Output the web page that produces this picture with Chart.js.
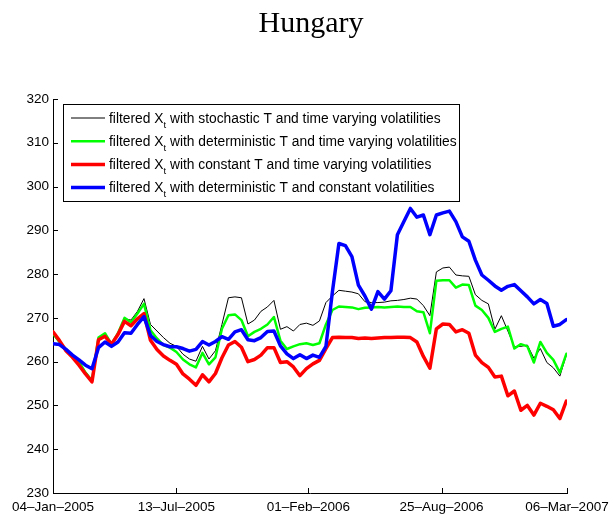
<!DOCTYPE html>
<html>
<head>
<meta charset="utf-8">
<script src="https://cdn.jsdelivr.net/npm/chart.js@4.4.0/dist/chart.umd.min.js"></script>
<style>
html, body { margin: 0; padding: 0; background: #fff; }
</style>
</head>
<body>
<canvas id="hungaryChart" width="611" height="515"></canvas>
<script>
// chart title
var titleText = 'Hungary';

// x positions: days since 04-Jan-2005 (one sample every 10 days)
var days = [0, 10, 20, 30, 40, 50, 60, 70, 80, 90,
  100, 110, 120, 130, 140, 150, 160, 170, 180, 190,
  200, 210, 220, 230, 240, 250, 260, 270, 280, 290,
  300, 310, 320, 330, 340, 350, 360, 370, 380, 390,
  400, 410, 420, 430, 440, 450, 460, 470, 480, 490,
  500, 510, 520, 530, 540, 550, 560, 570, 580, 590,
  600, 610, 620, 630, 640, 650, 660, 670, 680, 690,
  700, 710, 720, 730, 740, 750, 760, 770, 780, 790];

// date ticks on the x axis
var tickDays = [0, 190, 393, 598, 791];
var tickLabels = ['04\u2013Jan\u20132005', '13\u2013Jul\u20132005', '01\u2013Feb\u20132006', '25\u2013Aug\u20132006', '06\u2013Mar\u20132007'];

// y axis
var yMin = 230, yMax = 320, yStep = 10;

// filtered X_t, stochastic T and time varying volatilities (black)
var stochasticTV = [266.2, 264.4, 262.7, 261.3, 259.8, 257.7, 255.8, 265.3, 266.3, 264.0,
  266.3, 269.8, 269.5, 271.5, 274.4, 268.5, 267.0, 265.5, 264.2, 263.5,
  261.7, 260.6, 260.1, 263.5, 260.6, 262.5, 268.5, 274.6, 274.8, 274.6,
  268.6, 269.5, 271.5, 272.5, 274.0, 267.4, 268.0, 267.0, 268.5, 268.8,
  268.3, 269.3, 273.5, 275.0, 276.3, 276.1, 275.9, 275.5, 273.7, 273.5,
  273.5, 273.6, 273.9, 274.0, 274.2, 274.5, 274.3, 272.8, 270.5, 280.5,
  281.4, 281.6, 279.8, 279.6, 279.5, 275.3, 274.0, 273.2, 267.4, 270.5,
  267.0, 263.4, 263.5, 263.8, 260.8, 263.0, 259.8, 258.6, 256.7, 261.5];

// deterministic T and time varying volatilities (green)
var deterministicTV = [266.4, 264.5, 262.8, 261.4, 260.0, 257.5, 255.7, 265.5, 266.5, 264.0,
  266.5, 270.0, 269.0, 271.0, 273.2, 267.2, 265.3, 263.8, 263.2, 262.2,
  260.5, 259.4, 258.7, 262.0, 259.4, 261.0, 267.5, 270.6, 270.8, 269.5,
  265.8, 266.8, 267.5, 268.5, 270.2, 264.8, 262.9, 263.5, 264.0, 264.2,
  263.8, 264.2, 268.5, 271.8, 272.6, 272.5, 272.4, 272.0, 272.3, 272.4,
  272.5, 272.4, 272.5, 272.6, 272.5, 272.5, 271.5, 271.3, 266.5, 278.5,
  278.6, 278.6, 276.9, 277.6, 277.5, 272.8, 271.8, 270.0, 266.8, 267.5,
  268.0, 263.0, 264.0, 263.5, 259.8, 264.5, 262.0, 260.4, 257.5, 261.8];

// constant T and time varying volatilities (red)
var constantTV = [266.8, 264.8, 262.5, 261.0, 259.2, 257.2, 255.4, 265.0, 265.8, 264.0,
  266.2, 269.2, 268.2, 269.8, 271.0, 264.9, 262.8, 261.3, 260.3, 259.4,
  257.2, 256.0, 254.6, 257.0, 255.4, 257.3, 260.9, 263.8, 264.6, 263.3,
  260.0, 260.5, 261.5, 263.2, 263.2, 259.8, 260.0, 258.8, 256.8, 258.4,
  259.5, 260.3, 263.0, 265.5, 265.6, 265.5, 265.5, 265.3, 265.4, 265.3,
  265.4, 265.5, 265.5, 265.6, 265.6, 265.5, 264.5, 261.2, 258.5, 267.5,
  268.6, 268.5, 266.8, 267.3, 266.5, 261.5, 259.8, 258.7, 256.5, 256.7,
  252.2, 253.3, 248.9, 250.0, 247.8, 250.5, 249.8, 249.0, 247.0, 251.0];

// deterministic T and constant volatilities (blue)
var deterministicConst = [264.1, 263.9, 262.8, 261.5, 260.4, 259.2, 258.4, 263.2, 264.5, 263.5,
  264.5, 266.6, 266.5, 268.5, 270.3, 266.0, 264.6, 263.9, 263.4, 263.4,
  263.0, 262.4, 262.8, 264.6, 263.8, 264.6, 265.7, 265.1, 266.8, 267.3,
  265.0, 264.8, 265.5, 266.9, 267.0, 263.6, 261.8, 260.7, 261.6, 260.7,
  261.5, 261.0, 263.5, 276.0, 287.0, 286.5, 284.0, 277.5, 275.0, 272.0,
  276.0, 274.3, 276.2, 289.0, 292.0, 295.0, 293.0, 293.5, 289.0, 293.5,
  294.0, 294.4, 292.0, 288.5, 287.5, 283.2, 279.8, 278.6, 277.3, 276.3,
  277.2, 277.6, 276.2, 274.8, 273.2, 274.2, 273.3, 268.1, 268.5, 269.6];

// legend entries, in the order shown in the box
var legendEntries = [
  { pre: 'filtered X', sub: 't', post: ' with stochastic T and time varying volatilities', color: '#000000', width: 1 },
  { pre: 'filtered X', sub: 't', post: ' with deterministic T and time varying volatilities', color: '#00ff00', width: 2.5 },
  { pre: 'filtered X', sub: 't', post: ' with constant T and time varying volatilities', color: '#ff0000', width: 3.5 },
  { pre: 'filtered X', sub: 't', post: ' with deterministic T and constant volatilities', color: '#0000ff', width: 3.5 }
];

var sansFont = '"Liberation Sans", Arial, Helvetica, sans-serif';

function toPoints(vals) {
  return days.map(function(d, i) { return { x: d, y: vals[i] }; });
}

var yTicks = [];
for (var v = yMin; v <= yMax; v += yStep) yTicks.push(v);

// title, inward tick marks and the legend box (with subscript t)
var decorPlugin = {
  id: 'decor',
  afterDraw: function(chart) {
    var ctx = chart.ctx;
    var area = chart.chartArea;
    var xs = chart.scales.x, ys = chart.scales.y;
    ctx.save();

    ctx.fillStyle = '#000';
    ctx.font = '30px "Liberation Serif", "Times New Roman", serif';
    ctx.textAlign = 'center';
    ctx.textBaseline = 'alphabetic';
    ctx.fillText(titleText, (area.left + area.right) / 2 + 1, 32);

    ctx.strokeStyle = '#000';
    ctx.lineWidth = 1;
    ctx.beginPath();
    yTicks.forEach(function(t) {
      var y = Math.round(ys.getPixelForValue(t)) + 0.5;
      ctx.moveTo(area.left, y);
      ctx.lineTo(area.left + 5, y);
    });
    tickDays.forEach(function(d) {
      var x = Math.round(xs.getPixelForValue(d)) + 0.5;
      ctx.moveTo(x, area.bottom);
      ctx.lineTo(x, area.bottom - 5);
    });
    ctx.stroke();

    // legend
    var bx = 63.5, by = 104.5, bw = 396, bh = 97;
    ctx.fillStyle = '#fff';
    ctx.fillRect(bx, by, bw, bh);
    ctx.strokeStyle = '#000';
    ctx.lineWidth = 1;
    ctx.strokeRect(bx, by, bw, bh);

    ctx.textAlign = 'left';
    legendEntries.forEach(function(e, i) {
      var cy = 118 + i * 23.2;
      ctx.strokeStyle = e.color;
      ctx.lineWidth = e.width;
      ctx.beginPath();
      ctx.moveTo(71, cy);
      ctx.lineTo(105, cy);
      ctx.stroke();

      ctx.fillStyle = '#000';
      var tx = 109;
      ctx.font = '13.8px ' + sansFont;
      ctx.fillText(e.pre, tx, cy + 4.5);
      tx += ctx.measureText(e.pre).width;
      ctx.font = '9.5px ' + sansFont;
      ctx.fillText(e.sub, tx, cy + 9.5);
      tx += ctx.measureText(e.sub).width;
      ctx.font = '13.8px ' + sansFont;
      ctx.fillText(e.post, tx, cy + 4.5);
    });

    ctx.restore();
  }
};

var ctx = document.getElementById('hungaryChart').getContext('2d');
var chart = new Chart(ctx, {
  type: 'line',
  data: {
    datasets: [
      { data: toPoints(deterministicConst), borderColor: '#0000ff', borderWidth: 3.5 },
      { data: toPoints(constantTV), borderColor: '#ff0000', borderWidth: 3.5 },
      { data: toPoints(deterministicTV), borderColor: '#00ff00', borderWidth: 2.5 },
      { data: toPoints(stochasticTV), borderColor: '#000000', borderWidth: 1 }
    ]
  },
  options: {
    responsive: false,
    animation: false,
    events: [],
    layout: { padding: { top: 99, right: 44, left: 0, bottom: 0 } },
    elements: {
      point: { radius: 0 },
      line: { tension: 0, fill: false, borderJoinStyle: 'round', borderCapStyle: 'round' }
    },
    plugins: {
      legend: { display: false },
      title: { display: false },
      tooltip: { enabled: false }
    },
    scales: {
      x: {
        type: 'linear',
        min: 0,
        max: 791,
        grid: { display: false, drawTicks: false },
        border: { display: true, color: '#000', width: 1 },
        afterBuildTicks: function(scale) {
          scale.ticks = tickDays.map(function(d) { return { value: d }; });
        },
        afterFit: function(scale) {
          scale.height = 22;
          // labels may overhang the plot edges, as in the original
          scale.paddingLeft = 0;
          scale.paddingRight = 0;
        },
        ticks: {
          autoSkip: false,
          maxRotation: 0,
          padding: 6,
          color: '#000',
          font: { family: sansFont, size: 13.5 },
          callback: function(value) {
            var k = tickDays.indexOf(value);
            return k >= 0 ? tickLabels[k] : '';
          }
        }
      },
      y: {
        min: yMin,
        max: yMax,
        grid: { display: false, drawTicks: false },
        border: { display: true, color: '#000', width: 1 },
        afterFit: function(scale) {
          scale.width = 53;
          scale.paddingTop = 0;
          scale.paddingBottom = 0;
        },
        ticks: {
          stepSize: yStep,
          padding: 4,
          color: '#000',
          font: { family: sansFont, size: 13.5 }
        }
      }
    }
  },
  plugins: [decorPlugin]
});
</script>
</body>
</html>
